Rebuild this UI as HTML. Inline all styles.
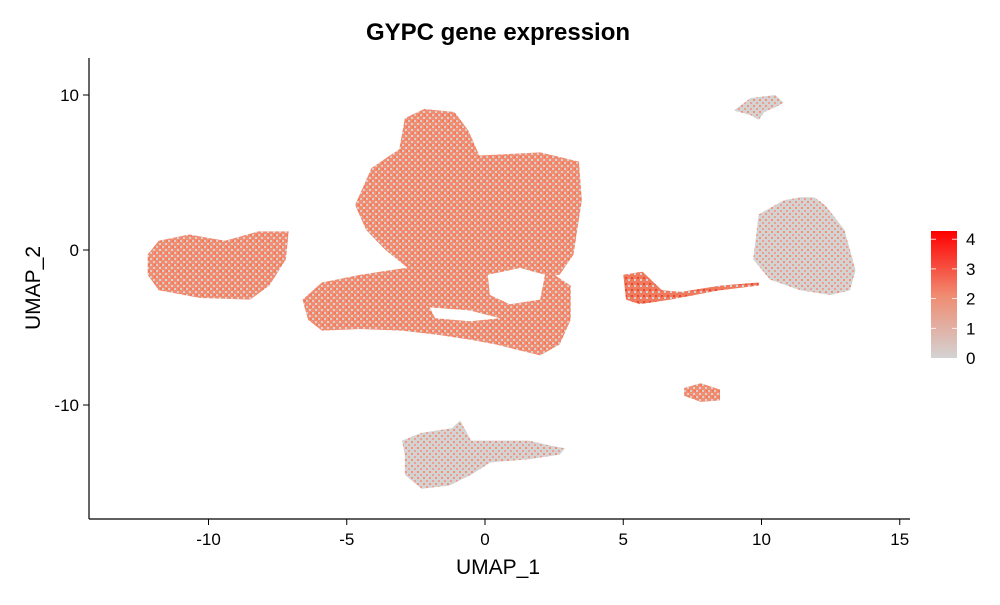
<!DOCTYPE html>
<html><head><meta charset="utf-8"><style>
body{margin:0;background:#fff;}
svg text{font-family:"Liberation Sans",sans-serif;}
</style></head><body>
<svg id="chart" width="1000" height="600" viewBox="0 0 1000 600">
<defs>
<pattern id="mixA" width="6" height="6" patternUnits="userSpaceOnUse">
<rect width="6" height="6" fill="#f28d72"/>
<rect x="0" y="0" width="2" height="2" fill="#d6cfcc"/>
<rect x="3" y="3" width="2" height="2" fill="#d3d3d3"/>
<rect x="4" y="0" width="2" height="2" fill="#f47a5c"/>
</pattern>
<pattern id="mixB" width="6" height="6" patternUnits="userSpaceOnUse">
<rect width="6" height="6" fill="#d3d3d3"/>
<rect x="0" y="0" width="2" height="2" fill="#eea090"/>
<rect x="3" y="3" width="2" height="2" fill="#f2937a"/>
</pattern>
<pattern id="mixC" width="6" height="6" patternUnits="userSpaceOnUse">
<rect width="6" height="6" fill="#f07a5e"/>
<rect x="1" y="1" width="2" height="2" fill="#e84a30"/>
<rect x="4" y="3" width="2" height="2" fill="#d3d3d3"/>
</pattern>
<linearGradient id="grad" x1="0" y1="1" x2="0" y2="0">
<stop offset="0" stop-color="#d3d3d3"/>
<stop offset="0.5" stop-color="#f08a70"/>
<stop offset="1" stop-color="#ff0000"/>
</linearGradient>
</defs>
<text x="498" y="40" text-anchor="middle" font-size="24" font-weight="bold">GYPC gene expression</text>
<g id="clusters"></g>
<line x1="89" y1="58" x2="89" y2="519" stroke="#000" stroke-width="1.2"/>
<line x1="89" y1="519" x2="910" y2="519" stroke="#000" stroke-width="1.2"/>
<g id="axes"></g>
<text x="498" y="574" text-anchor="middle" font-size="21">UMAP_1</text>
<text transform="translate(40,288) rotate(-90)" text-anchor="middle" font-size="21">UMAP_2</text>
<g>
<rect x="931" y="231" width="26" height="127" fill="url(#grad)"/>
<g id="legend"></g>
</g>
</svg>
<script>
const xTicks=[-10,-5,0,5,10,15];
const yTicks=[10,0,-10];
const legendValues=[0,1,2,3,4];
const clusterMain=[[-4.7,2.9],[-4.1,5.3],[-3.1,6.5],[-2.9,8.5],[-2.2,9.1],[-1.1,8.9],[-0.6,7.7],[-0.2,6.1],[2.0,6.3],[3.4,5.7],[3.5,3.2],[3.2,-0.3],[2.7,-1.6],[1.6,-1.9],[0.2,-1.6],[-1.3,-1.3],[-2.7,-1.3],[-3.6,0],[-4.3,1.3]];
const clusterArm=[[-6.6,-3.2],[-5.9,-2.1],[-4.5,-1.6],[-2.3,-1.0],[-0.9,-1.0],[0.5,-1.6],[2.0,-1.0],[3.1,-2.3],[3.1,-4.5],[2.7,-6.1],[2.0,-6.8],[1.3,-6.5],[0.4,-6.1],[-0.5,-5.8],[-1.6,-5.5],[-3.0,-5.2],[-4.5,-5.1],[-5.9,-5.2],[-6.4,-4.5]];
const clusterLeft=[[-12.2,-0.3],[-11.8,0.6],[-10.7,1.0],[-9.4,0.6],[-8.2,1.2],[-7.1,1.2],[-7.2,-0.6],[-7.8,-2.3],[-8.5,-3.2],[-10.3,-3.1],[-11.8,-2.6],[-12.2,-1.6]];
const clusterRight=[[9.9,2.3],[10.8,3.2],[11.4,3.4],[11.9,3.4],[12.3,2.9],[13.0,1.3],[13.4,-1.3],[13.2,-2.6],[12.5,-2.9],[11.4,-2.6],[10.3,-1.9],[9.7,-0.6]];
const clusterTop=[[9.0,9.0],[9.6,9.8],[10.5,10.0],[10.8,9.5],[10.5,9.2],[10.1,8.9],[9.9,8.4],[9.6,8.7]];
const clusterBottom=[[-3.0,-12.3],[-2.3,-11.8],[-1.2,-11.5],[-0.9,-11.0],[-0.5,-12.3],[0.5,-12.3],[1.6,-12.3],[2.3,-12.6],[2.9,-12.8],[2.7,-13.2],[1.6,-13.5],[0.2,-13.7],[-0.5,-14.5],[-1.3,-15.2],[-2.3,-15.4],[-2.9,-14.5],[-2.9,-13.2]];
const clusterSmall=[[7.2,-8.9],[7.8,-8.6],[8.5,-9.0],[8.5,-9.7],[7.8,-9.8],[7.2,-9.4]];
const clusterStrip=[[5.0,-1.6],[5.7,-1.4],[6.4,-2.6],[7.1,-2.7],[8.5,-2.3],[9.9,-2.1],[9.9,-2.3],[8.5,-2.6],[6.7,-3.2],[5.6,-3.5],[5.1,-3.2]];
const holeA=[[0.1,-1.6],[1.27,-1.16],[2.17,-1.6],[1.99,-3.2],[0.9,-3.5],[0.18,-2.9]];
const holeB=[[-2.0,-3.7],[-0.54,-3.9],[0.54,-4.4],[-0.54,-4.6],[-1.8,-4.4]];
const clusterList=[["cluster-main",clusterMain,"url(#mixA)"],["cluster-arm",clusterArm,"url(#mixA)"],["cluster-left",clusterLeft,"url(#mixA)"],["cluster-right",clusterRight,"url(#mixB)"],["cluster-top",clusterTop,"url(#mixB)"],["cluster-bottom",clusterBottom,"url(#mixB)"],["cluster-small",clusterSmall,"url(#mixA)"],["cluster-strip",clusterStrip,"url(#mixC)"],["empty-region",holeA,"#fff"],["empty-region",holeB,"#fff"]];

const NS="http://www.w3.org/2000/svg";
const sx=v=>485+v*27.65;
const sy=v=>250-v*15.5;
const ly=v=>358-v*29.7;
function mk(tag,attrs,parent,text){const e=document.createElementNS(NS,tag);for(const k in attrs)e.setAttribute(k,attrs[k]);if(text!==undefined)e.textContent=text;parent.appendChild(e);return e;}
const cg=document.getElementById('clusters');
clusterList.forEach(c=>{
  const p=mk('polygon',{points:c[1].map(q=>sx(q[0])+','+sy(q[1])).join(' '),fill:c[2]},cg);
  
  
});
const ag=document.getElementById('axes');
xTicks.forEach(t=>{
  const l=mk('line',{x1:sx(t),x2:sx(t),y1:519,y2:525,stroke:'#000'},ag);
  
  
  const tx=mk('text',{x:sx(t),y:545,'text-anchor':'middle','font-size':17},ag,String(t));
  
  
});
yTicks.forEach(t=>{
  const l=mk('line',{x1:83,x2:89,y1:sy(t),y2:sy(t),stroke:'#000'},ag);
  
  
  const tx=mk('text',{x:79,y:sy(t)+6,'text-anchor':'end','font-size':17},ag,String(t));
  
  
});
const lg=document.getElementById('legend');
legendValues.forEach(v=>{
  if(v>0){mk('line',{x1:931,x2:936,y1:ly(v),y2:ly(v),stroke:'#fff','stroke-width':0.8},lg);mk('line',{x1:952,x2:957,y1:ly(v),y2:ly(v),stroke:'#fff','stroke-width':0.8},lg);}
  const tx=mk('text',{x:966,y:ly(v)+6,'font-size':17},lg,String(v));
  
  
});
</script>
</body></html>
